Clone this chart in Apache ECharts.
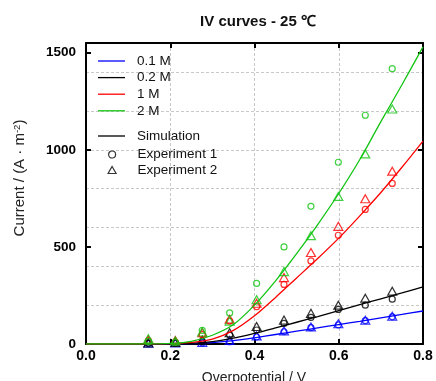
<!DOCTYPE html>
<html>
<head>
<meta charset="utf-8">
<script src="https://cdn.jsdelivr.net/npm/echarts@6/dist/echarts.min.js"></script>
<style>html,body{margin:0;padding:0;background:#fff;}#c{width:436px;height:381px;}</style>
</head>
<body>
<div id="c"></div>
<script>
const seriesNames = ['0.1 M', '0.2 M', '1 M', '2 M'];
const seriesColors = ['#0000ff', '#000000', '#ff0000', '#12c412'];
const xTicks = [0, 0.2, 0.4, 0.6, 0.8];
const yTicks = [0, 500, 1000, 1500];

const simX = [0, 0.1, 0.15, 0.2, 0.25, 0.3, 0.35, 0.4, 0.45, 0.5, 0.55, 0.6, 0.65, 0.7, 0.75, 0.8];
const sim01 = [0, 0, 0.2, 1, 2, 7, 17, 32, 49, 66, 83, 100, 117, 135, 152, 170];
const sim02 = [0, 0, 0.2, 1, 3, 12, 30, 55, 83, 112, 141, 172, 203, 233, 263, 294];
const sim1 = [0, 0, 0.3, 2, 8, 25, 70, 145, 240, 340, 440, 545, 660, 780, 910, 1045];
const sim2 = [0, 0, 0.4, 3, 14, 45, 100, 200, 325, 465, 615, 775, 950, 1145, 1335, 1530];

const expX = [0.148, 0.212, 0.276, 0.341, 0.405, 0.470, 0.534, 0.599, 0.663, 0.727];
const exp1_01 = [3, 4, 6, 12, 36, 63, 84, 98, 120, 140];
const exp1_02 = [4, 6, 15, 46, 72, 106, 137, 178, 200, 231];
const exp1_1 = [18, 10, 48, 118, 192, 307, 428, 560, 693, 827];
const exp1_2 = [12, 8, 70, 160, 312, 500, 709, 936, 1178, 1418];
const exp2_01 = [4, 5, 8, 18, 42, 67, 88, 104, 122, 143];
const exp2_02 = [5, 8, 20, 58, 90, 123, 158, 200, 236, 272];
const exp2_1 = [22, 18, 58, 128, 210, 342, 471, 606, 748, 890];
const exp2_2 = [27, 16, 62, 118, 228, 373, 558, 760, 979, 1210];

const simAll = [sim01, sim02, sim1, sim2];
const exp1All = [exp1_01, exp1_02, exp1_1, exp1_2];
const exp2All = [exp2_01, exp2_02, exp2_1, exp2_2];

const FONT = "'Liberation Sans', Arial, sans-serif";
const pair = (xs, ys) => xs.map((x, i) => [x, ys[i]]);
const LINE_ICON = 'path://M0,0H27V1.3H0Z';

const series = [];
for (let k = 0; k < 4; k++) {
  series.push({
    name: seriesNames[k] + ' exp1', type: 'scatter', symbol: 'circle', symbolSize: 6,
    data: pair(expX, exp1All[k]), z: 3 + k,
    itemStyle: { color: 'rgba(0,0,0,0)', borderColor: seriesColors[k], borderWidth: 1.2 }
  });
  series.push({
    name: seriesNames[k] + ' exp2', type: 'scatter', symbol: 'triangle', symbolSize: [9, 8],
    data: pair(expX, exp2All[k]), z: 3 + k,
    itemStyle: { color: 'rgba(0,0,0,0)', borderColor: seriesColors[k], borderWidth: 1.2 }
  });
}
for (let k = 0; k < 4; k++) {
  series.push({
    name: seriesNames[k], type: 'line', smooth: 0.3, symbol: 'none', showSymbol: false,
    data: pair(simX, simAll[k]), z: 3 + k,
    color: seriesColors[k],
    lineStyle: { color: seriesColors[k], width: 1.3 }
  });
}
series.push({ name: 'Simulation', type: 'line', symbol: 'none', showSymbol: false, data: [], color: '#000', lineStyle: { color: '#000', width: 1.3 } });
series.push({ name: 'Experiment 1', type: 'scatter', symbol: 'circle', data: [], itemStyle: { color: 'rgba(0,0,0,0)', borderColor: '#000', borderWidth: 1.2 } });
series.push({ name: 'Experiment 2', type: 'scatter', symbol: 'triangle', data: [], itemStyle: { color: 'rgba(0,0,0,0)', borderColor: '#000', borderWidth: 1.2 } });

const legendText = { fontFamily: FONT, fontSize: 13.5, color: '#111', padding: [0, 0, 0, 7] };

const axisLineStyle = { show: true, onZero: false, lineStyle: { color: '#000', width: 2 } };
const tickIn = { show: true, inside: true, length: 5, lineStyle: { color: '#000', width: 2 } };
const gridDash = { show: true, lineStyle: { color: '#c8c8c8', type: [3, 2], width: 1 } };

const chart = echarts.init(document.getElementById('c'), null, { renderer: 'canvas' });
chart.setOption({
  animation: false,
  backgroundColor: '#fff',
  title: {
    text: 'IV curves - 25 ℃', left: 253, top: 9, textAlign: 'center',
    textStyle: { fontFamily: FONT, fontSize: 15, fontWeight: 'bold', color: '#111' }
  },
  grid: { left: 86, right: 13, top: 43, bottom: 37, containLabel: false },
  legend: [
    { data: seriesNames.map(n => ({ name: n, icon: LINE_ICON })), orient: 'vertical', left: 98, top: 54, padding: 0,
      itemWidth: 27, itemHeight: 14, itemGap: 2.6, textStyle: legendText, selectedMode: false },
    { data: [{ name: 'Simulation', icon: LINE_ICON }], orient: 'vertical', left: 98, top: 129, padding: 0,
      itemWidth: 27, itemHeight: 14, textStyle: legendText, selectedMode: false },
    { data: [{ name: 'Experiment 1', icon: 'circle' }, { name: 'Experiment 2', icon: 'triangle' }], orient: 'vertical', left: 107.5, top: 147.5, padding: 0,
      itemWidth: 8, itemHeight: 7, itemGap: 1.5,
      textStyle: Object.assign({}, legendText, { padding: [0, 0, 0, 16.5] }), selectedMode: false,
      itemStyle: { color: 'rgba(0,0,0,0)', borderColor: '#000', borderWidth: 1.2 } }
  ],
  xAxis: [
    { type: 'value', position: 'bottom', min: xTicks[0], max: xTicks[xTicks.length - 1], interval: 0.2,
      axisLine: axisLineStyle, axisTick: tickIn, splitLine: gridDash,
      axisLabel: { fontFamily: FONT, fontSize: 14, fontWeight: 'bold', color: '#000', margin: 5, formatter: v => v.toFixed(1) } },
    { type: 'value', position: 'top', min: xTicks[0], max: xTicks[xTicks.length - 1], interval: 0.2,
      axisLine: axisLineStyle, axisTick: tickIn, splitLine: { show: false }, axisLabel: { show: false } }
  ],
  yAxis: [
    { type: 'value', position: 'left', min: yTicks[0], max: 1550, interval: 500,
      axisLine: axisLineStyle, axisTick: tickIn, splitLine: { show: false },
      axisLabel: { fontFamily: FONT, fontSize: 13.5, fontWeight: 'bold', color: '#000', margin: 10, showMaxLabel: false, formatter: v => String(v) } },
    { type: 'value', position: 'right', min: yTicks[0], max: 1550, interval: 500,
      axisLine: axisLineStyle, axisTick: tickIn, splitLine: { show: false }, axisLabel: { show: false } },
    { type: 'value', position: 'left', min: 0, max: 1550, interval: 200,
      axisLine: { show: false }, axisTick: { show: false }, axisLabel: { show: false }, splitLine: gridDash }
  ],
  graphic: [
    { type: 'text', style: { text: 'Overpotential / V', font: "14px 'Liberation Sans', Arial", fill: '#222', x: 254, y: 378, textAlign: 'center', textVerticalAlign: 'middle' } },
    { type: 'text', x: 20, y: 178, rotation: Math.PI / 2,
      style: { text: 'Current / (A · m{sup|-2})', font: "15px 'Liberation Sans', Arial", fill: '#222', textAlign: 'center', textVerticalAlign: 'middle',
        rich: { sup: { fontSize: 9.5, fontFamily: FONT, verticalAlign: 'top', fill: '#222', color: '#222' } } } }
  ],
  series: series
});
</script>
</body>
</html>
